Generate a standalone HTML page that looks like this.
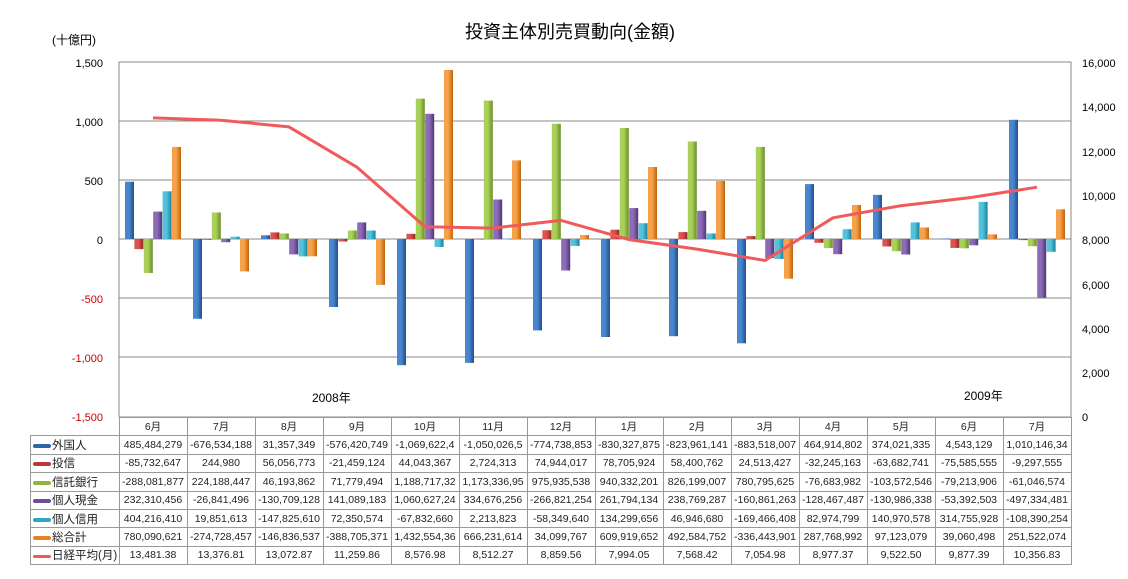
<!DOCTYPE html>
<html><head><meta charset="utf-8">
<style>
body{margin:0;background:#fff;width:1128px;height:579px;overflow:hidden;position:relative;font-family:"Liberation Sans","Noto Sans CJK JP",sans-serif;}
svg{position:absolute;left:0;top:0}
table{position:absolute;border-collapse:collapse;font-size:10.5px;color:#222;table-layout:fixed;width:1041px}
td{border:1px solid #999;height:17.4px;padding:0;text-align:center;white-space:nowrap;overflow:hidden;width:67px}
td.l{width:88px;text-align:left;font-size:11.5px;overflow:hidden}
.k{display:inline-block;width:18px;height:4px;border-radius:2px;vertical-align:middle;margin:0 1px 0 2px}
</style></head><body>
<svg width="1128" height="579" id="s">
<text x="570" y="38" font-size="18" text-anchor="middle" font-family="Liberation Sans,Noto Sans CJK JP,sans-serif" fill="#000">投資主体別売買動向(金額)</text>
<text x="52" y="44" font-size="12" fill="#000" font-family="Liberation Sans,Noto Sans CJK JP,sans-serif">(十億円)</text>
<g font-size="11" text-anchor="end" font-family="Liberation Sans,sans-serif">
<text x="103" y="67">1,500</text><text x="103" y="126">1,000</text><text x="103" y="185">500</text><text x="103" y="244">0</text>
<text x="103" y="303" fill="#c00">-500</text><text x="103" y="362" fill="#c00">-1,000</text><text x="103" y="421" fill="#c00">-1,500</text>
</g>
<g font-size="11" font-family="Liberation Sans,sans-serif">
<text x="1082" y="67">16,000</text><text x="1082" y="111">14,000</text><text x="1082" y="156">12,000</text><text x="1082" y="200">10,000</text><text x="1082" y="244">8,000</text><text x="1082" y="289">6,000</text><text x="1082" y="333">4,000</text><text x="1082" y="377">2,000</text><text x="1082" y="421">0</text>
</g>
<text x="312" y="402" font-size="12" font-family="Liberation Sans,Noto Sans CJK JP,sans-serif">2008年</text>
<text x="964" y="400" font-size="12" font-family="Liberation Sans,Noto Sans CJK JP,sans-serif">2009年</text>
<g id="g"></g>
</svg>
<table style="left:30px;top:417px">
<tr><td class="l" style="border:none"></td><td>6月</td><td>7月</td><td>8月</td><td>9月</td><td>10月</td><td>11月</td><td>12月</td><td>1月</td><td>2月</td><td>3月</td><td>4月</td><td>5月</td><td>6月</td><td>7月</td></tr>
<tr><td class="l"><span class="k" style="background:#2e64a8"></span>外国人</td><td>485,484,279</td><td>-676,534,188</td><td>31,357,349</td><td>-576,420,749</td><td>-1,069,622,4</td><td>-1,050,026,5</td><td>-774,738,853</td><td>-830,327,875</td><td>-823,961,141</td><td>-883,518,007</td><td>464,914,802</td><td>374,021,335</td><td>4,543,129</td><td>1,010,146,34</td></tr>
<tr><td class="l"><span class="k" style="background:#b83a35"></span>投信</td><td>-85,732,647</td><td>244,980</td><td>56,056,773</td><td>-21,459,124</td><td>44,043,367</td><td>2,724,313</td><td>74,944,017</td><td>78,705,924</td><td>58,400,762</td><td>24,513,427</td><td>-32,245,163</td><td>-63,682,741</td><td>-75,585,555</td><td>-9,297,555</td></tr>
<tr><td class="l"><span class="k" style="background:#8db63c"></span>信託銀行</td><td>-288,081,877</td><td>224,188,447</td><td>46,193,862</td><td>71,779,494</td><td>1,188,717,32</td><td>1,173,336,95</td><td>975,935,538</td><td>940,332,201</td><td>826,199,007</td><td>780,795,625</td><td>-76,683,982</td><td>-103,572,546</td><td>-79,213,906</td><td>-61,046,574</td></tr>
<tr><td class="l"><span class="k" style="background:#6f4d98"></span>個人現金</td><td>232,310,456</td><td>-26,841,496</td><td>-130,709,128</td><td>141,089,183</td><td>1,060,627,24</td><td>334,676,256</td><td>-266,821,254</td><td>261,794,134</td><td>238,769,287</td><td>-160,861,263</td><td>-128,467,487</td><td>-130,986,338</td><td>-53,392,503</td><td>-497,334,481</td></tr>
<tr><td class="l"><span class="k" style="background:#2fa6c2"></span>個人信用</td><td>404,216,410</td><td>19,851,613</td><td>-147,825,610</td><td>72,350,574</td><td>-67,832,660</td><td>2,213,823</td><td>-58,349,640</td><td>134,299,656</td><td>46,946,680</td><td>-169,466,408</td><td>82,974,799</td><td>140,970,578</td><td>314,755,928</td><td>-108,390,254</td></tr>
<tr><td class="l"><span class="k" style="background:#e8821e"></span>総合計</td><td>780,090,621</td><td>-274,728,457</td><td>-146,836,537</td><td>-388,705,371</td><td>1,432,554,36</td><td>666,231,614</td><td>34,099,767</td><td>609,919,652</td><td>492,584,752</td><td>-336,443,901</td><td>287,768,992</td><td>97,123,079</td><td>39,060,498</td><td>251,522,074</td></tr>
<tr><td class="l"><span class="k" style="background:#f05a5a;height:3px"></span>日経平均(月)</td><td>13,481.38</td><td>13,376.81</td><td>13,072.87</td><td>11,259.86</td><td>8,576.98</td><td>8,512.27</td><td>8,859.56</td><td>7,994.05</td><td>7,568.42</td><td>7,054.98</td><td>8,977.37</td><td>9,522.50</td><td>9,877.39</td><td>10,356.83</td></tr>
</table>
<script>
var D=[[485.5,-676.5,31.4,-576.4,-1069.6,-1050.0,-774.7,-830.3,-824.0,-883.5,464.9,374.0,4.5,1010.1],
[-85.7,0.2,56.1,-21.5,44.0,2.7,74.9,78.7,58.4,24.5,-32.2,-63.7,-75.6,-9.3],
[-288.1,224.2,46.2,71.8,1188.7,1173.3,975.9,940.3,826.2,780.8,-76.7,-103.6,-79.2,-61.0],
[232.3,-26.8,-130.7,141.1,1060.6,334.7,-266.8,261.8,238.8,-160.9,-128.5,-131.0,-53.4,-497.3],
[404.2,19.9,-147.8,72.4,-67.8,2.2,-58.3,134.3,46.9,-169.5,83.0,141.0,314.8,-108.4],
[780.1,-274.7,-146.8,-388.7,1432.6,666.2,34.1,609.9,492.6,-336.4,287.8,97.1,39.1,251.5]];
var N=[13481.38,13376.81,13072.87,11259.86,8576.98,8512.27,8859.56,7994.05,7568.42,7054.98,8977.37,9522.50,9877.39,10356.83];
var C=[["#1f4e8c","#4a86cf"],["#8e2a26","#d9534f"],["#6a8f25","#a8d05a"],["#523474","#8d6bb8"],["#1a7f99","#53c3dd"],["#c0650e","#f7a14a"]];
var h='<defs>';C.forEach(function(c,i){h+='<linearGradient id="c'+i+'"><stop offset="0" stop-color="'+c[1]+'"/><stop offset=".45" stop-color="'+c[1]+'"/><stop offset="1" stop-color="'+c[0]+'"/></linearGradient>'});h+='</defs>';
h+='<rect x="119" y="62" width="952" height="355" fill="none" stroke="#888"/>';
[121,180,239,298,357].forEach(function(y){h+='<line x1="119" x2="1071" y1="'+y+'" y2="'+y+'" stroke="#888"/>'});
for(var k=0;k<14;k++){for(var s=0;s<6;s++){var v=D[s][k],x=119+k*68+6+s*9.4,y0=239,hh=Math.abs(v)*0.118;var y=v>=0?y0-hh:y0;h+='<rect x="'+x.toFixed(1)+'" y="'+y.toFixed(1)+'" width="9" height="'+Math.max(hh,0.8).toFixed(1)+'" fill="url(#c'+s+')"/>';}}
var p=N.map(function(n,k){return (119+k*68+34)+','+(417-n*355/16000).toFixed(1)}).join(' ');
h+='<polyline points="'+p+'" fill="none" stroke="#f05a5a" stroke-width="3" stroke-linejoin="round"/>';
document.getElementById('g').innerHTML=h;
</script>
</body></html>
